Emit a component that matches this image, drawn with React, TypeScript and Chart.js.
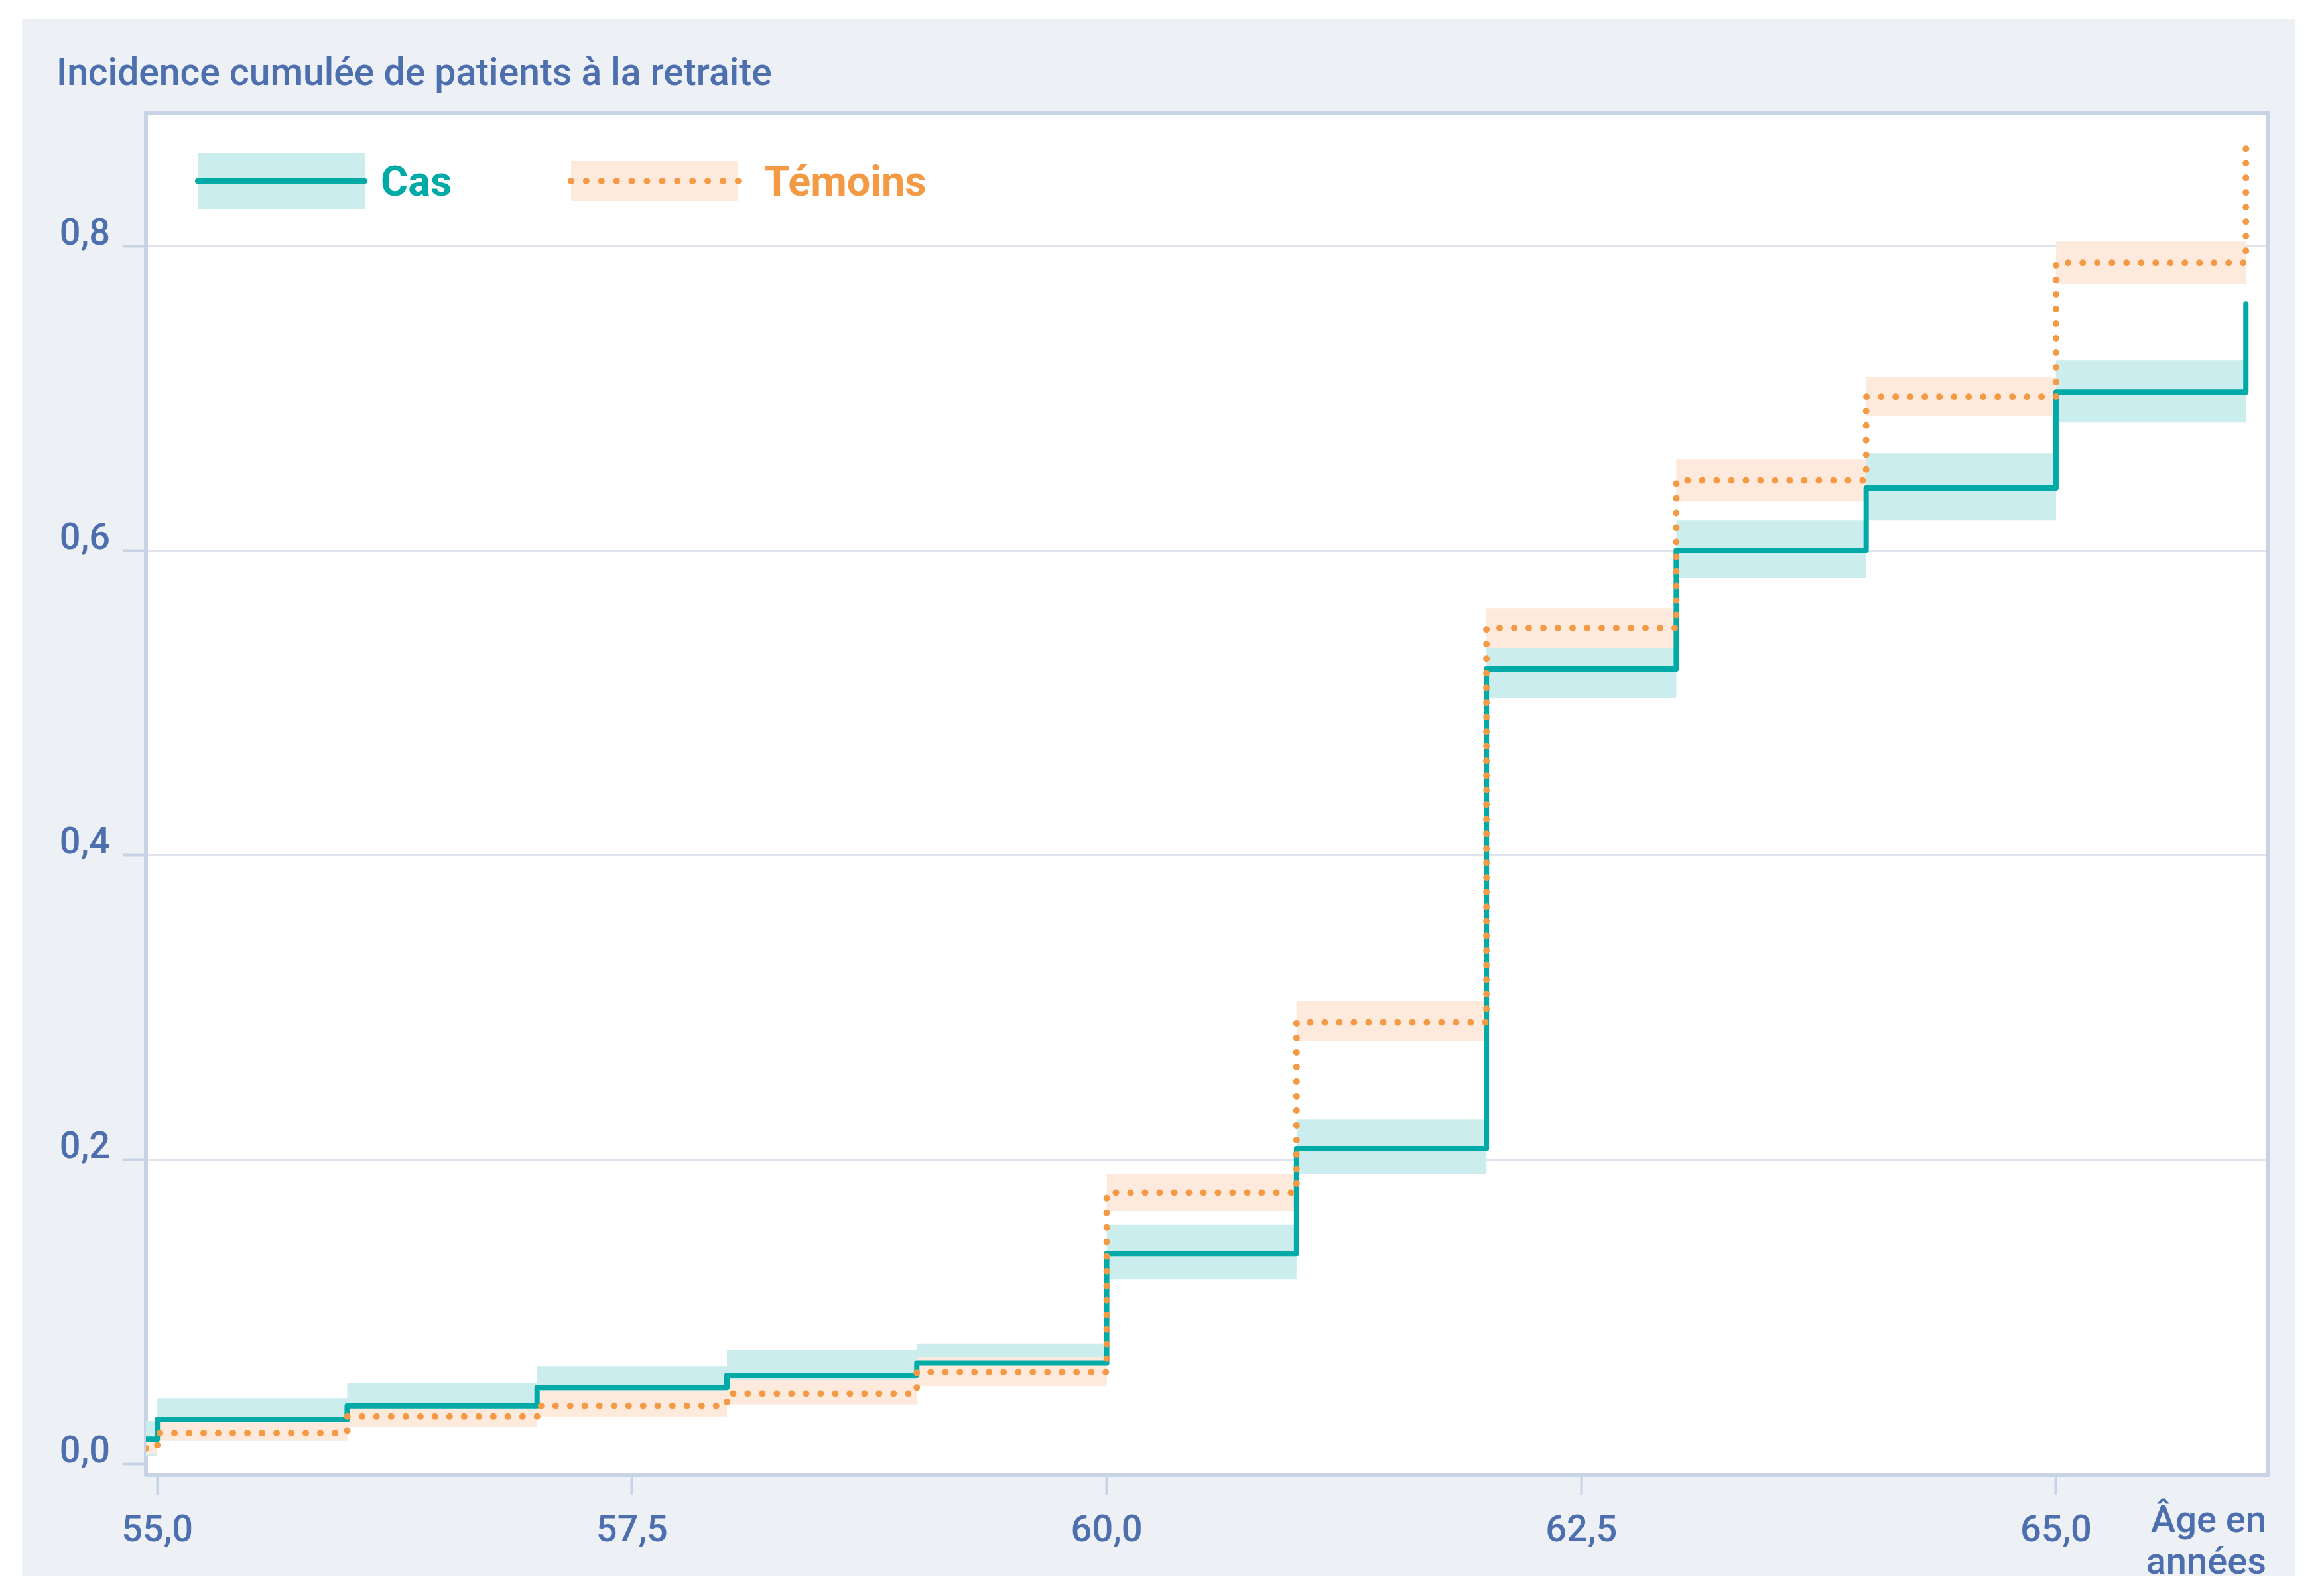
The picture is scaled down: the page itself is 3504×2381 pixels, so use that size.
import { useEffect, useRef } from 'react';
import { Chart, registerables } from 'chart.js';

Chart.register(...registerables);

// ---- Data ----
const AGES = [54.94, 55, 56, 57, 58, 59, 60, 61, 62, 63, 64, 65, 66];
const CAS = [0.016, 0.029, 0.038, 0.05, 0.058, 0.066, 0.138, 0.207, 0.522, 0.6, 0.641, 0.704, 0.762];
const CAS_UPPER = [0.028, 0.043, 0.053, 0.064, 0.075, 0.079, 0.157, 0.226, 0.536, 0.62, 0.664, 0.725];
const CAS_LOWER = [0.005, 0.015, 0.024, 0.036, 0.041, 0.053, 0.121, 0.19, 0.503, 0.582, 0.62, 0.684];
const TEMOINS = [0.01, 0.02, 0.031, 0.038, 0.046, 0.06, 0.178, 0.29, 0.549, 0.646, 0.701, 0.789, 0.866];
const TEMOINS_UPPER = [0.017, 0.027, 0.036, 0.048, 0.055, 0.07, 0.19, 0.304, 0.562, 0.66, 0.714, 0.803];
const TEMOINS_LOWER = [0.006, 0.015, 0.024, 0.031, 0.039, 0.051, 0.166, 0.278, 0.536, 0.632, 0.688, 0.775];
const X_TICKS = [55, 57.5, 60, 62.5, 65];
const Y_TICKS = [0, 0.2, 0.4, 0.6, 0.8];
const SERIES_NAMES = ['Cas', 'Témoins'];
const TITLE = 'Incidence cumulée de patients à la retraite';
const X_AXIS_TITLE = ['Âge en', 'années'];

// ---- Styles ----
const W = 3504;
const H = 2381;
const FONT = 'Roboto, "Noto Sans", sans-serif';
const TEXT = '#4e6fae';
const PANEL = '#edf0f5';
const FRAME = '#c8d3e6';
const GRID = '#dfe4ef';
const TEAL = '#00aaa6';
const TEAL_BAND = '#cceded';
const ORANGE = '#f49a45';
const ORANGE_BAND = '#fdeadc';

const fmt = (v: number) => v.toFixed(1).replace('.', ',');
const pts = (vals: number[]) => vals.map((v, i) => ({ x: AGES[i], y: v }));
const bandPts = (vals: number[]) => [
  ...vals.map((v, i) => ({ x: AGES[i], y: v })),
  { x: AGES[AGES.length - 1], y: vals[vals.length - 1] },
];

const backgroundPlugin = {
  id: 'bgPanel',
  beforeDraw(chart: any) {
    const { ctx, chartArea: a } = chart;
    ctx.save();
    ctx.fillStyle = '#ffffff';
    ctx.fillRect(0, 0, W, H);
    ctx.fillStyle = PANEL;
    ctx.fillRect(33, 29, 3460 - 33, 2376 - 29);
    ctx.fillStyle = '#ffffff';
    ctx.fillRect(a.left, a.top, a.right - a.left, a.bottom - a.top);
    ctx.restore();
  },
  beforeDatasetsDraw(chart: any) {
    const { ctx, chartArea: a } = chart;
    ctx.save();
    ctx.strokeStyle = FRAME;
    ctx.lineWidth = 6;
    ctx.lineJoin = 'round';
    ctx.strokeRect(a.left, a.top, a.right - a.left, a.bottom - a.top);
    ctx.restore();
  },
  afterDraw(chart: any) {
    const { ctx, chartArea: a } = chart;
    ctx.save();
    // Title
    ctx.fillStyle = TEXT;
    ctx.font = `500 57px ${FONT}`;
    ctx.textAlign = 'left';
    ctx.textBaseline = 'alphabetic';
    ctx.fillText(TITLE, 85, 128);

    // Legend: Cas
    ctx.fillStyle = TEAL_BAND;
    ctx.fillRect(298, 231, 252, 84);
    ctx.strokeStyle = TEAL;
    ctx.lineWidth = 8;
    ctx.lineCap = 'round';
    ctx.beginPath();
    ctx.moveTo(298, 273);
    ctx.lineTo(550, 273);
    ctx.stroke();
    ctx.fillStyle = TEAL;
    ctx.font = `700 63px ${FONT}`;
    ctx.fillText(SERIES_NAMES[0], 574, 295);

    // Legend: Témoins
    ctx.fillStyle = ORANGE_BAND;
    ctx.fillRect(861, 243, 252, 60);
    ctx.strokeStyle = ORANGE;
    ctx.lineWidth = 10;
    ctx.setLineDash([0, 22.9]);
    ctx.beginPath();
    ctx.moveTo(861, 273);
    ctx.lineTo(1114, 273);
    ctx.stroke();
    ctx.setLineDash([]);
    ctx.fillStyle = ORANGE;
    ctx.fillText(SERIES_NAMES[1], 1152, 295);

    // X axis title
    ctx.fillStyle = TEXT;
    ctx.font = `500 56px ${FONT}`;
    ctx.textAlign = 'right';
    ctx.fillText(X_AXIS_TITLE[0], a.right - 3, 2310);
    ctx.fillText(X_AXIS_TITLE[1], a.right - 3, 2373);
    ctx.restore();
  },
};

export default function App() {
  const ref = useRef<HTMLCanvasElement | null>(null);

  useEffect(() => {
    const canvas = ref.current;
    if (!canvas) return;
    const lineCommon = {
      stepped: true as const,
      pointRadius: 0,
      pointHoverRadius: 0,
      tension: 0,
    };
    const chart = new Chart(canvas, {
      type: 'line',
      data: {
        datasets: [
          {
            label: SERIES_NAMES[1],
            data: pts(TEMOINS),
            borderColor: ORANGE,
            borderWidth: 10,
            borderDash: [0, 22],
            borderCapStyle: 'round',
            borderJoinStyle: 'round',
            fill: false,
            order: 0,
            ...lineCommon,
          },
          {
            label: SERIES_NAMES[0],
            data: pts(CAS),
            borderColor: TEAL,
            borderWidth: 8,
            borderCapStyle: 'round',
            borderJoinStyle: 'round',
            fill: false,
            order: 1,
            ...lineCommon,
          },
          {
            label: SERIES_NAMES[1] + ' sup',
            data: bandPts(TEMOINS_UPPER),
            borderWidth: 0,
            borderColor: 'rgba(0,0,0,0)',
            backgroundColor: ORANGE_BAND,
            fill: '+1',
            order: 2,
            ...lineCommon,
          },
          {
            label: SERIES_NAMES[1] + ' inf',
            data: bandPts(TEMOINS_LOWER),
            borderWidth: 0,
            borderColor: 'rgba(0,0,0,0)',
            fill: false,
            order: 3,
            ...lineCommon,
          },
          {
            label: SERIES_NAMES[0] + ' sup',
            data: bandPts(CAS_UPPER),
            borderWidth: 0,
            borderColor: 'rgba(0,0,0,0)',
            backgroundColor: TEAL_BAND,
            fill: '+1',
            order: 4,
            ...lineCommon,
          },
          {
            label: SERIES_NAMES[0] + ' inf',
            data: bandPts(CAS_LOWER),
            borderWidth: 0,
            borderColor: 'rgba(0,0,0,0)',
            fill: false,
            order: 5,
            ...lineCommon,
          },
        ],
      },
      options: {
        animation: false,
        responsive: false,
        devicePixelRatio: 1,
        layout: { padding: { top: 170, right: 84, left: 0, bottom: 0 } },
        plugins: {
          legend: { display: false },
          title: { display: false },
          tooltip: { enabled: false },
        },
        scales: {
          x: {
            type: 'linear',
            min: 54.94,
            max: 66.118,
            afterFit: (s: any) => {
              s.height = 157;
            },
            afterBuildTicks: (s: any) => {
              s.ticks = X_TICKS.map((v) => ({ value: v }));
            },
            ticks: {
              callback: (v: any) => fmt(Number(v)),
              color: TEXT,
              font: { family: FONT, size: 56, weight: '500' },
              padding: 21,
              maxRotation: 0,
              autoSkip: false,
            },
            grid: {
              drawOnChartArea: false,
              drawTicks: true,
              tickLength: 31,
              tickColor: FRAME,
              tickWidth: 4,
            },
            border: { display: false },
          },
          y: {
            type: 'linear',
            min: -0.0074,
            max: 0.8876,
            afterFit: (s: any) => {
              s.width = 220;
            },
            afterBuildTicks: (s: any) => {
              s.ticks = Y_TICKS.map((v) => ({ value: v }));
            },
            ticks: {
              callback: (v: any) => fmt(Number(v)),
              color: TEXT,
              font: { family: FONT, size: 56, weight: '500' },
              padding: 20,
              labelOffset: -16,
              autoSkip: false,
            },
            grid: {
              color: (c: any) => (c.tick && c.tick.value === 0 ? 'rgba(0,0,0,0)' : GRID),
              lineWidth: 3,
              drawTicks: true,
              tickLength: 34,
              tickColor: FRAME,
              tickWidth: 4,
            },
            border: { display: false },
          },
        },
      },
      plugins: [backgroundPlugin],
    });
    return () => chart.destroy();
  }, []);

  return (
    <div style={{ position: 'fixed', left: 0, top: 0, width: W, height: H, background: '#fff' }}>
      <canvas ref={ref} width={W} height={H} style={{ display: 'block', width: W, height: H }} />
    </div>
  );
}
